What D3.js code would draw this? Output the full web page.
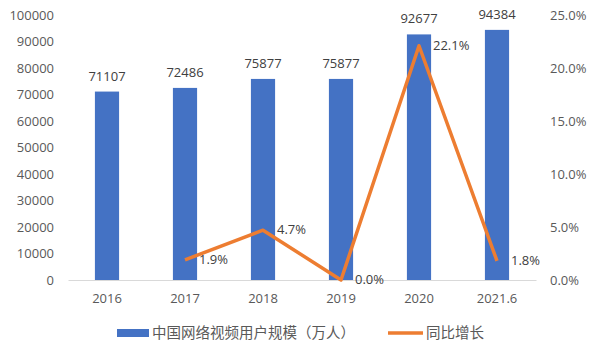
<!DOCTYPE html>
<html>
<head>
<meta charset="utf-8">
<script src="https://cdn.jsdelivr.net/npm/d3@7"></script>
<style>
  body { margin: 0; background: #fff; }
  svg text { font-family: "Open Sans", "Noto Sans CJK SC", sans-serif; }
</style>
</head>
<body>
<div id="chart"></div>
<script>
// data
var years = ["2016", "2017", "2018", "2019", "2020", "2021.6"];
var users = [71107, 72486, 75877, 75877, 92677, 94384];
var growth = [null, 1.9, 4.7, 0.0, 22.1, 1.8];
var leftTicks = [0, 10000, 20000, 30000, 40000, 50000, 60000, 70000, 80000, 90000, 100000];
var rightTicks = [0, 5, 10, 15, 20, 25];

var width = 594, height = 352;
var margin = {top: 15, right: 58, bottom: 72, left: 68};

var svg = d3.select("#chart").append("svg")
    .attr("width", width)
    .attr("height", height);

var x = d3.scaleBand()
    .domain(years)
    .range([margin.left, width - margin.right])
    .paddingInner(0.69)
    .paddingOuter(0.345);

var y = d3.scaleLinear()
    .domain([0, 100000])
    .range([height - margin.bottom, margin.top]);

var y2 = d3.scaleLinear()
    .domain([0, 25])
    .range([height - margin.bottom, margin.top]);

// left axis
var yAxis = svg.append("g")
    .attr("transform", "translate(" + margin.left + ",0)")
    .call(d3.axisLeft(y).tickValues(leftTicks).tickSize(0).tickPadding(14).tickFormat(d3.format("d")));
yAxis.select(".domain").remove();
yAxis.selectAll("text").attr("font-size", 13).attr("fill", "#595959");

// right axis
var y2Axis = svg.append("g")
    .attr("transform", "translate(" + (width - margin.right) + ",0)")
    .call(d3.axisRight(y2).tickValues(rightTicks).tickSize(0).tickPadding(14)
      .tickFormat(function(d) { return d.toFixed(1) + "%"; }));
y2Axis.select(".domain").remove();
y2Axis.selectAll("text").attr("font-size", 13).attr("fill", "#595959");

// x axis
var xAxis = svg.append("g")
    .attr("transform", "translate(0," + y(0) + ")")
    .call(d3.axisBottom(x).tickSize(0).tickPadding(14).tickSizeOuter(0));
xAxis.select(".domain").attr("stroke", "#d9d9d9");
xAxis.selectAll("text").attr("font-size", 13).attr("fill", "#595959");

// bars
svg.append("g")
  .selectAll("rect")
  .data(users)
  .enter().append("rect")
    .attr("x", function(d, i) { return x(years[i]); })
    .attr("y", function(d) { return y(d); })
    .attr("width", x.bandwidth())
    .attr("height", function(d) { return y(0) - y(d); })
    .attr("fill", "#4472C4");

svg.append("g")
  .selectAll("text")
  .data(users)
  .enter().append("text")
    .attr("x", function(d, i) { return x(years[i]) + x.bandwidth() / 2; })
    .attr("y", function(d) { return y(d) - 11; })
    .attr("text-anchor", "middle")
    .attr("font-size", 13)
    .attr("fill", "#404040")
    .text(function(d) { return d; });

// growth line
var pts = years.map(function(yr, i) { return {year: yr, v: growth[i]}; })
  .filter(function(d) { return d.v !== null; });

var line = d3.line()
    .x(function(d) { return x(d.year) + x.bandwidth() / 2; })
    .y(function(d) { return y2(d.v); });

svg.append("path")
    .datum(pts)
    .attr("d", line)
    .attr("fill", "none")
    .attr("stroke", "#ED7D31")
    .attr("stroke-width", 3.5)
    .attr("stroke-linejoin", "round");

svg.append("g")
  .selectAll("text")
  .data(pts)
  .enter().append("text")
    .attr("x", function(d) { return x(d.year) + x.bandwidth() / 2 + 14; })
    .attr("y", function(d) { return y2(d.v) + 4; })
    .attr("font-size", 13)
    .attr("fill", "#404040")
    .text(function(d) { return d.v.toFixed(1) + "%"; });

// legend
var lg = svg.append("g").attr("transform", "translate(0,333)");
lg.append("rect").attr("x", 117).attr("y", -4).attr("width", 32).attr("height", 8).attr("fill", "#4472C4");
lg.append("text").attr("x", 152).attr("y", 5).attr("font-size", 14.5).attr("fill", "#595959")
  .text("中国网络视频用户规模（万人）");
lg.append("line").attr("x1", 388).attr("x2", 423).attr("y1", 0).attr("y2", 0)
  .attr("stroke", "#ED7D31").attr("stroke-width", 3.5);
lg.append("text").attr("x", 426).attr("y", 5).attr("font-size", 14.5).attr("fill", "#595959")
  .text("同比增长");
</script>
</body>
</html>
